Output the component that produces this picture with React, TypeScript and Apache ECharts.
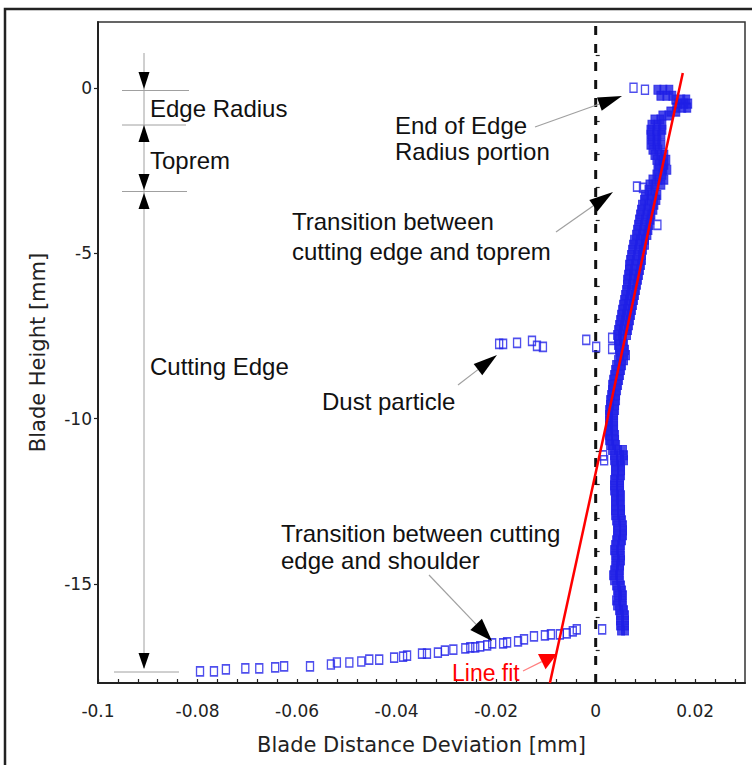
import React, { useEffect, useRef } from "react";
import * as echarts from "echarts";

// ---------- data (mm) ----------
const xMajorTicks = [-0.1, -0.08, -0.06, -0.04, -0.02, 0, 0.02];
const yMajorTicks = [-15, -10, -5, 0];
const yMinorTicks = [-17, -16, -14, -13, -12, -11, -9, -8, -7, -6, -4, -3, -2, -1, 1];

// dense profile band: [height, deviations...]
const bandRows: [number, number[]][] = [
  [-0.05, [0.0124, 0.0136, 0.0148]],
  [-0.23, [0.013, 0.0142, 0.0154]],
  [-0.35, [0.016, 0.0172, 0.0182]],
  [-0.47, [0.0166, 0.0178, 0.0186]],
  [-0.59, [0.0162, 0.0174, 0.0184]],
  [-0.71, [0.015, 0.0162]],
  [-0.83, [0.0134, 0.0146]],
  [-0.95, [0.0118, 0.013]],
  [-1.11, [0.0112, 0.0124, 0.0134]],
  [-1.26, [0.011, 0.0122, 0.0134]],
  [-1.41, [0.011, 0.0122, 0.0132]],
  [-1.56, [0.0112, 0.0124]],
  [-1.71, [0.011, 0.0122, 0.0132]],
  [-1.86, [0.0114, 0.0126]],
  [-2.02, [0.0118, 0.013, 0.0138]],
  [-2.17, [0.0122, 0.0134, 0.0142]],
  [-2.32, [0.0126, 0.0138]],
  [-2.47, [0.0124, 0.0136, 0.0144]],
  [-2.62, [0.0122, 0.0134]],
  [-2.77, [0.0114, 0.0126, 0.0138]],
  [-2.92, [0.0108, 0.012, 0.0132]],
  [-3.08, [0.0106, 0.0118]],
  [-3.23, [0.0099, 0.0112, 0.0124]],
  [-3.38, [0.0097, 0.011, 0.0122]],
  [-3.53, [0.0093, 0.0106, 0.0118]],
  [-3.68, [0.0091, 0.0104, 0.0116]],
  [-3.83, [0.0089, 0.0102, 0.0112]],
  [-3.98, [0.0087, 0.0099, 0.011]],
  [-4.14, [0.0085, 0.0097, 0.0108]],
  [-4.29, [0.0083, 0.0095, 0.0106]],
  [-4.44, [0.0081, 0.0093, 0.0104]],
  [-4.59, [0.0077, 0.0089, 0.0099]],
  [-4.74, [0.0075, 0.0087, 0.0099]],
  [-4.89, [0.0073, 0.0085, 0.0095]],
  [-5.05, [0.0071, 0.0083, 0.0093]],
  [-5.2, [0.0069, 0.0081, 0.0093]],
  [-5.35, [0.0067, 0.0079, 0.0091]],
  [-5.5, [0.0067, 0.0077, 0.0089]],
  [-5.65, [0.0065, 0.0075, 0.0087]],
  [-5.8, [0.0063, 0.0075, 0.0085]],
  [-5.95, [0.0063, 0.0073, 0.0083]],
  [-6.11, [0.0061, 0.0071, 0.0081]],
  [-6.26, [0.0059, 0.0069, 0.0079]],
  [-6.41, [0.0057, 0.0067, 0.0077]],
  [-6.56, [0.0055, 0.0065, 0.0075]],
  [-6.71, [0.0053, 0.0063, 0.0073]],
  [-6.86, [0.0051, 0.0061, 0.0071]],
  [-7.02, [0.0049, 0.0059, 0.0069]],
  [-7.17, [0.0047, 0.0057, 0.0067]],
  [-7.32, [0.0045, 0.0055, 0.0065]],
  [-7.47, [0.0043, 0.0053, 0.0063]],
  [-7.62, [0.0045, 0.0055]],
  [-7.77, [0.0045, 0.0057]],
  [-7.92, [0.0047, 0.0059]],
  [-8.08, [0.0049, 0.0061]],
  [-8.23, [0.0045, 0.0057]],
  [-8.38, [0.0041, 0.0053]],
  [-8.53, [0.0039, 0.0051]],
  [-8.68, [0.0037, 0.0049]],
  [-8.83, [0.0035, 0.0047]],
  [-8.98, [0.0033, 0.0045]],
  [-9.14, [0.0033, 0.0043]],
  [-9.29, [0.0031, 0.0041]],
  [-9.44, [0.0029, 0.0041]],
  [-9.59, [0.0029, 0.0039]],
  [-9.74, [0.0027, 0.0039]],
  [-9.89, [0.0027, 0.0037]],
  [-10.05, [0.0027, 0.0037]],
  [-10.2, [0.0027, 0.0037]],
  [-10.35, [0.0027, 0.0037]],
  [-10.5, [0.0027, 0.0039]],
  [-10.65, [0.0027, 0.0039]],
  [-10.8, [0.0029, 0.0041]],
  [-10.95, [0.0033, 0.0045, 0.0055]],
  [-11.11, [0.0037, 0.0049, 0.0057]],
  [-11.26, [0.0037, 0.0049, 0.0057]],
  [-11.41, [0.0039, 0.0051]],
  [-11.56, [0.0039, 0.0051]],
  [-11.71, [0.0039, 0.0051]],
  [-11.86, [0.0037, 0.0049]],
  [-12.02, [0.0037, 0.0049]],
  [-12.17, [0.0037, 0.0049]],
  [-12.32, [0.0039, 0.0051]],
  [-12.47, [0.0039, 0.0049]],
  [-12.62, [0.0039, 0.0051]],
  [-12.77, [0.0039, 0.0051]],
  [-12.92, [0.0039, 0.0051]],
  [-13.08, [0.0041, 0.0053]],
  [-13.23, [0.0043, 0.0055]],
  [-13.38, [0.0043, 0.0055]],
  [-13.53, [0.0043, 0.0055]],
  [-13.68, [0.0041, 0.0053]],
  [-13.83, [0.0039, 0.0051]],
  [-13.98, [0.0037, 0.0049]],
  [-14.14, [0.0039, 0.0051]],
  [-14.29, [0.0041, 0.0051]],
  [-14.44, [0.0039, 0.0049]],
  [-14.59, [0.0037, 0.0049]],
  [-14.74, [0.0035, 0.0047]],
  [-14.89, [0.0037, 0.0049]],
  [-15.05, [0.0041, 0.0051]],
  [-15.2, [0.0043, 0.0053]],
  [-15.35, [0.0045, 0.0055]],
  [-15.5, [0.0041, 0.0053]],
  [-15.65, [0.0043, 0.0055]],
  [-15.8, [0.0047, 0.0057]],
  [-15.95, [0.0049, 0.0059]],
  [-16.11, [0.0049, 0.0059]],
  [-16.26, [0.0049, 0.0059]],
  [-16.41, [0.0051, 0.0059]],
];

// isolated points: [deviation, height]
const strayPoints: [number, number][] = [
  [0.0076, 0.01], [0.0099, -0.05], [0.0083, -2.98], [0.0095, -3.02], [0.0124, -4.14],
  [-0.0019, -7.62], [0.0001, -7.83], [0.0033, -7.56], [0.0033, -7.89],
  [0.0015, -11.11], [0.0017, -11.26],
];
const dustPoints: [number, number][] = [
  [-0.0194, -7.74], [-0.0186, -7.74], [-0.0158, -7.71], [-0.0128, -7.65], [-0.0118, -7.8], [-0.0106, -7.83],
];
const shoulderPoints: [number, number][] = [
  [-0.0795, -17.65], [-0.0767, -17.65], [-0.0743, -17.59], [-0.0704, -17.56], [-0.0676, -17.56],
  [-0.0644, -17.53], [-0.0626, -17.5], [-0.0574, -17.5], [-0.0532, -17.44], [-0.052, -17.38],
  [-0.0495, -17.38], [-0.0471, -17.35], [-0.0455, -17.29], [-0.0435, -17.29], [-0.0405, -17.23],
  [-0.0387, -17.2], [-0.0379, -17.17], [-0.0349, -17.11], [-0.0339, -17.11], [-0.0317, -17.08],
  [-0.0303, -17.02], [-0.0286, -16.99], [-0.0262, -16.95], [-0.0252, -16.92], [-0.0242, -16.92],
  [-0.0232, -16.89], [-0.0218, -16.86], [-0.0208, -16.8], [-0.0186, -16.8], [-0.0178, -16.77],
  [-0.0156, -16.74], [-0.0144, -16.68], [-0.0124, -16.59], [-0.0102, -16.56], [-0.009, -16.53],
  [-0.0072, -16.53], [-0.0058, -16.5], [-0.0046, -16.44], [-0.0038, -16.38], [0.0013, -16.38],
];
const lineFit: [number, number][] = [[-0.0092, -18], [0.0175, 0.46]];
const zeroLine: [number, number][] = [[0, -18], [0, 2]];

const X_MIN = -0.1, X_MAX = 0.03, Y_MIN = -18, Y_MAX = 2;

// ---------- layout / annotations ----------
const ANN_FONT = '"Liberation Sans", Arial, sans-serif';
const AX_FONT = '"DejaVu Sans", Verdana, sans-serif';
const ANN_SIZE = 24;
const GRAY = "#a0a0a0";

function arrowHead(sx: number, sy: number, tx: number, ty: number, len: number, hw: number) {
  const dx = tx - sx, dy = ty - sy;
  const d = Math.hypot(dx, dy);
  const ux = dx / d, uy = dy / d;
  const bx = tx - ux * len, by = ty - uy * len;
  return {
    base: [bx, by],
    points: [[tx, ty], [bx - uy * hw, by + ux * hw], [bx + uy * hw, by - ux * hw]],
  };
}

function pointerArrow(sx: number, sy: number, tx: number, ty: number, color: string, lineColor: string, len = 24, hw = 7) {
  const h = arrowHead(sx, sy, tx, ty, len, hw);
  return [
    { type: "line", shape: { x1: sx, y1: sy, x2: h.base[0], y2: h.base[1] }, style: { stroke: lineColor, lineWidth: 1.2 }, z: 100 },
    { type: "polygon", shape: { points: h.points }, style: { fill: color }, z: 100 },
  ];
}

function label(text: string, x: number, y: number, color = "#111", size = ANN_SIZE) {
  return {
    type: "text", x, y, z: 100,
    style: { text, fill: color, fontSize: size, fontFamily: ANN_FONT, align: "left", verticalAlign: "middle" },
  };
}

function vTri(x: number, tipY: number, baseY: number, hw = 5.5) {
  return { type: "polygon", z: 100, shape: { points: [[x, tipY], [x - hw, baseY], [x + hw, baseY]] }, style: { fill: "#000" } };
}

function hLine(x1: number, x2: number, y: number) {
  return { type: "line", z: 99, shape: { x1, y1: y, x2, y2: y }, style: { stroke: GRAY, lineWidth: 1 } };
}

export default function App() {
  const ref = useRef<HTMLDivElement>(null);
  useEffect(() => {
    if (!ref.current) return;
    const chart = echarts.init(ref.current, null, { renderer: "svg" });

    const bandData: [number, number][] = [];
    bandRows.forEach(([y, xs]) => xs.forEach((x) => bandData.push([x, y])));

    const xAllTicks: number[] = [];
    for (let i = 0; i <= 32; i++) xAllTicks.push(Math.round((X_MIN + i * 0.004) * 10000) / 10000);

    const hollow = {
      type: "scatter", symbol: "rect", symbolSize: [7, 9],
      itemStyle: { color: "rgba(255,255,255,0)", borderColor: "#2323e8", borderWidth: 1.5 },
      z: 5, silent: true,
    };

    const graphic: any[] = [
      // outer frame
      { type: "rect", shape: { x: 5, y: 9, width: 800, height: 800 }, style: { fill: "none", stroke: "#222", lineWidth: 2.5 }, z: 1 },
      // dimension lines on the left
      { type: "line", z: 99, shape: { x1: 144, y1: 53, x2: 144, y2: 668 }, style: { stroke: GRAY, lineWidth: 1 } },
      hLine(122, 189, 90.5),
      hLine(122, 186, 125),
      hLine(122, 187, 191.5),
      hLine(114, 179, 672),
      vTri(144, 89, 72),
      vTri(144, 125, 142),
      vTri(144, 190, 174),
      vTri(144, 193, 209),
      vTri(144, 669, 653),
      label("Edge Radius", 150, 108),
      label("Toprem", 150, 160),
      label("Cutting Edge", 150, 366),
      label("End of Edge", 395, 125),
      label("Radius portion", 395, 151),
      label("Transition between", 292, 221),
      label("cutting edge and toprem", 292, 251),
      label("Dust particle", 322, 401),
      label("Transition between cutting", 281, 533),
      label("edge and shoulder", 281, 560),
      label("Line fit", 452, 673, "#ff0000", 23),
      ...pointerArrow(535, 127, 622, 96, "#000", GRAY),
      ...pointerArrow(556, 232, 613, 192, "#000", GRAY),
      ...pointerArrow(458, 385, 497, 355, "#000", GRAY),
      ...pointerArrow(429, 575, 492, 641, "#000", GRAY, 23, 8),
      ...pointerArrow(523, 671, 557, 654, "#ff0000", "#ff8080", 17, 8.5),
    ];

    chart.setOption({
      animation: false,
      backgroundColor: "#fff",
      grid: { left: 98, top: 22, right: 7, bottom: 82, show: true, borderColor: "#333", borderWidth: 1.5, backgroundColor: "transparent" },
      xAxis: [
        {
          type: "value", min: X_MIN, max: X_MAX, position: "bottom",
          axisLine: { show: true, onZero: false, lineStyle: { color: "#222", width: 2 } },
          axisTick: { show: true, inside: true, length: 4, customValues: xAllTicks, lineStyle: { color: "#222", width: 1.2 } },
          axisLabel: {
            show: true, customValues: xMajorTicks, margin: 19, fontSize: 17, fontFamily: AX_FONT, color: "#222",
            formatter: (v: number) => String(Math.round(v * 1000) / 1000),
          },
          splitLine: { show: false },
          name: "Blade Distance Deviation [mm]", nameLocation: "middle", nameGap: 51,
          nameTextStyle: { fontSize: 21, fontFamily: AX_FONT, color: "#222" },
        },
      ],
      yAxis: [
        {
          type: "value", min: Y_MIN, max: Y_MAX, position: "left",
          axisLine: { show: true, onZero: false, lineStyle: { color: "#222", width: 2 } },
          axisTick: { show: true, inside: false, length: 4, customValues: yMajorTicks, lineStyle: { color: "#222", width: 1.2 } },
          axisLabel: {
            show: true, customValues: yMajorTicks, margin: 6, fontSize: 17, fontFamily: AX_FONT, color: "#222",
            formatter: (v: number) => String(v),
          },
          splitLine: { show: false },
          name: "Blade Height [mm]", nameLocation: "middle", nameGap: 50,
          nameTextStyle: { fontSize: 21, fontFamily: AX_FONT, color: "#222" },
        },
        {
          type: "value", min: Y_MIN, max: Y_MAX, position: "left",
          axisLine: { show: false },
          axisTick: { show: true, inside: true, length: 4, customValues: yMinorTicks, lineStyle: { color: "#222", width: 1.2 } },
          axisLabel: { show: false },
          splitLine: { show: false },
        },
      ],
      series: [
        {
          type: "line", data: zeroLine, symbol: "none", silent: true, z: 2,
          lineStyle: { color: "#111", width: 3, type: [9, 9] },
        },
        {
          type: "scatter", data: bandData, symbol: "rect", symbolSize: [7, 9], silent: true, z: 4,
          itemStyle: { color: "#1f1fe6", borderColor: "#1f1fe6", borderWidth: 1 },
        },
        { ...hollow, data: strayPoints },
        { ...hollow, data: dustPoints },
        { ...hollow, data: shoulderPoints },
        {
          type: "line", data: lineFit, symbol: "none", silent: true, z: 8,
          lineStyle: { color: "#ff0000", width: 2.5 },
        },
      ],
      graphic,
    });
    return () => chart.dispose();
  }, []);

  return (
    <div
      ref={ref}
      style={{ position: "fixed", left: 0, top: 0, width: 752, height: 765, background: "#fff" }}
    />
  );
}
